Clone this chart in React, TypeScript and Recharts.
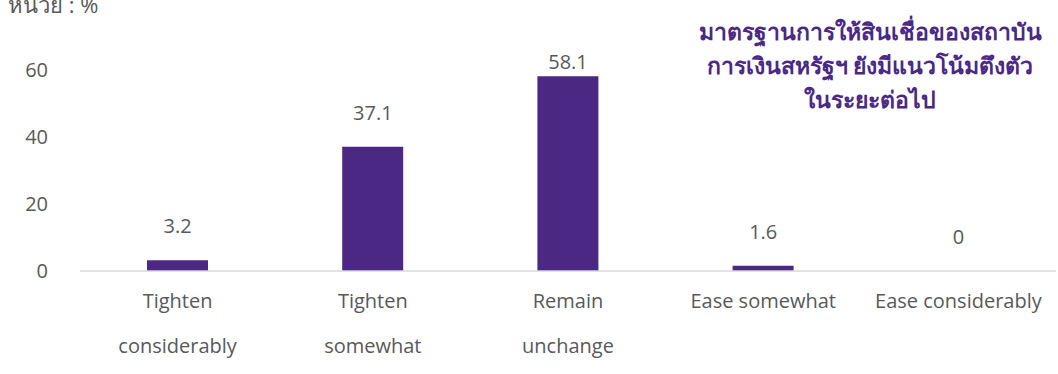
import { Bar, ComposedChart, LabelList, Line, XAxis, YAxis } from 'recharts'

const categories = ['Tighten\nconsiderably', 'Tighten\nsomewhat', 'Remain\nunchange', 'Ease somewhat', 'Ease considerably']
const shares = [3.2, 37.1, 58.1, 1.6, 0]
const yTicks = [0, 20, 40, 60]
const noteLines = ['มาตรฐานการให้สินเชื่อของสถาบัน', 'การเงินสหรัฐฯ ยังมีแนวโน้มตึงตัว', 'ในระยะต่อไป']

const FONT = '"Open Sans", "Noto Sans", sans-serif'
const TEXT = '#595959'
const PURPLE = '#4c2885'

const data = categories.map((name, i) => ({ name, value: shares[i] }))

function CategoryTick({ x, y, payload }: { x?: number; y?: number; payload?: { value: string } }) {
  const lines = (payload?.value ?? '').split('\n')
  return (
    <text x={x} y={(y ?? 0) + 29} textAnchor="middle" fill={TEXT} fontSize={20} fontFamily={FONT}>
      {lines.map((line, i) => (
        <tspan key={i} x={x} dy={i === 0 ? 0 : 45}>
          {line}
        </tspan>
      ))}
    </text>
  )
}

// labels hang off an invisible line so the zero category still gets its "0"
function ValueLabel(props: { x?: number; y?: number; value?: number }) {
  const { x = 0, y = 0, value } = props
  const baseline = Math.max(Number(y) - 27, 69)
  return (
    <text x={Number(x)} y={baseline} textAnchor="middle" fill={TEXT} fontSize={20} fontFamily={FONT}>
      {value}
    </text>
  )
}

export default function App() {
  return (
    <div style={{ position: 'absolute', left: 0, top: 0, width: 1058, height: 374, background: '#fff', overflow: 'hidden' }}>
      <div style={{ position: 'absolute', left: 8, top: -12, fontSize: 22, color: TEXT, fontFamily: FONT }}>หน่วย : %</div>
      <div
        style={{
          position: 'absolute',
          left: 678,
          top: 14,
          width: 384,
          textAlign: 'center',
          color: PURPLE,
          fontWeight: 700,
          fontSize: 23,
          lineHeight: '34px',
          fontFamily: FONT,
        }}
      >
        {noteLines.map((line) => (
          <div key={line}>{line}</div>
        ))}
      </div>
      <ComposedChart width={1058} height={374} data={data} margin={{ top: 70, right: 2, bottom: 0, left: 0 }} barSize={61}>
        <XAxis
          dataKey="name"
          interval={0}
          height={103}
          tickLine={false}
          axisLine={{ stroke: '#d9d9d9', strokeWidth: 1.5 }}
          tick={<CategoryTick />}
        />
        <YAxis
          domain={[0, 60]}
          ticks={yTicks}
          width={80}
          axisLine={false}
          tickLine={false}
          tickMargin={26}
          tick={{ fill: TEXT, fontSize: 20, fontFamily: FONT }}
        />
        <Bar dataKey="value" fill={PURPLE} isAnimationActive={false} />
        <Line dataKey="value" stroke="none" dot={false} activeDot={false} isAnimationActive={false}>
          <LabelList dataKey="value" content={<ValueLabel />} />
        </Line>
      </ComposedChart>
    </div>
  )
}
